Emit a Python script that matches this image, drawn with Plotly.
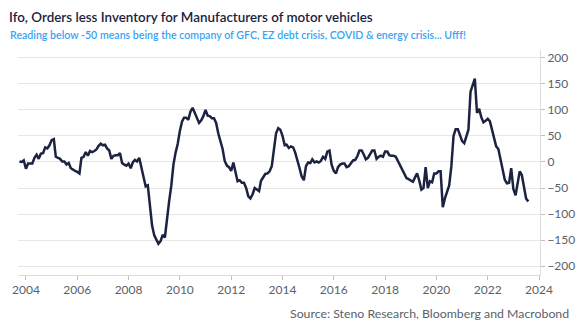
import pandas as pd
import plotly.graph_objects as go

start_month = "2003-10-01"
values = [
    1, 0, 3, -13,
    -3, -3, -3, 8, 14, 6, 16, 17, 28, 26, 32, 42,
    44, 10, 8, 6, 1, 1, -5, -2, -12, -15, -17, -19,
    -22, 8, 10, 19, 12, 21, 19, 21, 24, 31, 35, 32,
    33, 26, 22, 6, 12, 13, 13, 17, -2, -5, -7, -3,
    -12, -1, 4, 1, 8, -10, -28, -47, -45, -85, -122, -141,
    -150, -157, -152, -140, -145, -105, -75, -45, -5, 18, 35, 60,
    78, 85, 85, 81, 97, 104, 93, 83, 75, 80, 88, 100,
    89, 88, 84, 84, 75, 55, 41, 25, 2, -7, -10, -17,
    -1, -21, -37, -35, -40, -40, -50, -66, -70, -62, -50, -53,
    -56, -36, -30, -23, -22, -18, -8, 30, 55, 65, 62, 50,
    32, 33, 27, 30, 28, 18, 5, -12, -28, -35, -8, -1,
    -2, 5, -1, 1, -1, 2, 10, 6, 20, 22, -5, -17,
    -22, -10, -5, -3, -3, -10, -8, -3, 3, 4, 11, 22,
    22, 15, 5, 8, 14, 22, 22, 6, 10, 12, 10, 20,
    20, 13, 12, 12, 10, 2, -7, -16, -21, -31, -33, -36,
    -38, -30, -22, -35, -53, -50, -10, -50, -37, -39, -22, -22,
    -18, -18, -87, -70, -58, -45, -8, 50, 63, 63, 52, 40,
    36, 50, 62, 135, 150, 160, 94, 102, 86, 76, 79, 83,
    78, 62, 45, 30, 25, 6, -18, -34, -41, -40, -12, -52,
    -64, -45, -18, -25, -50, -70, -76,
]
dates = pd.date_range(start_month, periods=len(values), freq="MS")

title = "Ifo, Orders less Inventory for Manufacturers of motor vehicles"
subtitle = "Reading below -50 means being the company of GFC, EZ debt crisis, COVID & energy crisis... Ufff!"
source = "Source: Steno Research, Bloomberg and Macrobond"
y_ticks = [-200, -150, -100, -50, 0, 50, 100, 150, 200]

W, H = 587, 330
L, R, T, B = 15, 40, 50, 55
pw, ph = W - L - R, H - T - B

def px(x):
    return (x - L) / pw

def py(y):
    return (H - B - y) / ph

FONT = "Lato"

fig = go.Figure()
fig.add_trace(go.Scatter(
    x=dates, y=values, mode="lines",
    line=dict(color="#1b2340", width=2.5),
    hoverinfo="skip",
))

fig.update_layout(
    width=W, height=H,
    margin=dict(l=L, r=R, t=T, b=B),
    paper_bgcolor="white", plot_bgcolor="white",
    showlegend=False,
    font=dict(family=FONT, color="#5a5f6b", size=12),
    xaxis=dict(
        type="date",
        range=["2003-09-10", "2024-01-15"],
        tickformat="%Y", dtick="M24", tick0="2004-01-01",
        showgrid=False, zeroline=False,
        showline=True, linecolor="#dcdcdc", linewidth=1,
        ticks="outside", ticklen=4, tickcolor="#bfbfbf",
        tickfont=dict(size=12, color="#5a5f6b"),
    ),
    yaxis=dict(
        side="right",
        range=[-217, 215],
        tickvals=y_ticks,
        showgrid=True, gridcolor="#e6e6e6", gridwidth=1,
        zeroline=False,
        showline=True, linecolor="#dcdcdc", linewidth=1,
        ticks="outside", ticklen=4, tickcolor="#bfbfbf",
        tickfont=dict(size=12, color="#5a5f6b"),
    ),
    annotations=[
        dict(text=title, xref="paper", yref="paper", x=px(4), y=py(17),
             xanchor="left", yanchor="middle", showarrow=False,
             font=dict(family=FONT, size=13.4, color="#1b2340", weight=600)),
        dict(text=subtitle, xref="paper", yref="paper", x=px(5), y=py(35),
             xanchor="left", yanchor="middle", showarrow=False,
             font=dict(family=FONT, size=10.6, color="#3aa3f5", weight=600)),
        dict(text=source, xref="paper", yref="paper", x=px(579), y=py(313),
             xanchor="right", yanchor="middle", showarrow=False,
             font=dict(family=FONT, size=12.3, color="#5a5f6b")),
    ],
)

fig.write_html("out.html")
